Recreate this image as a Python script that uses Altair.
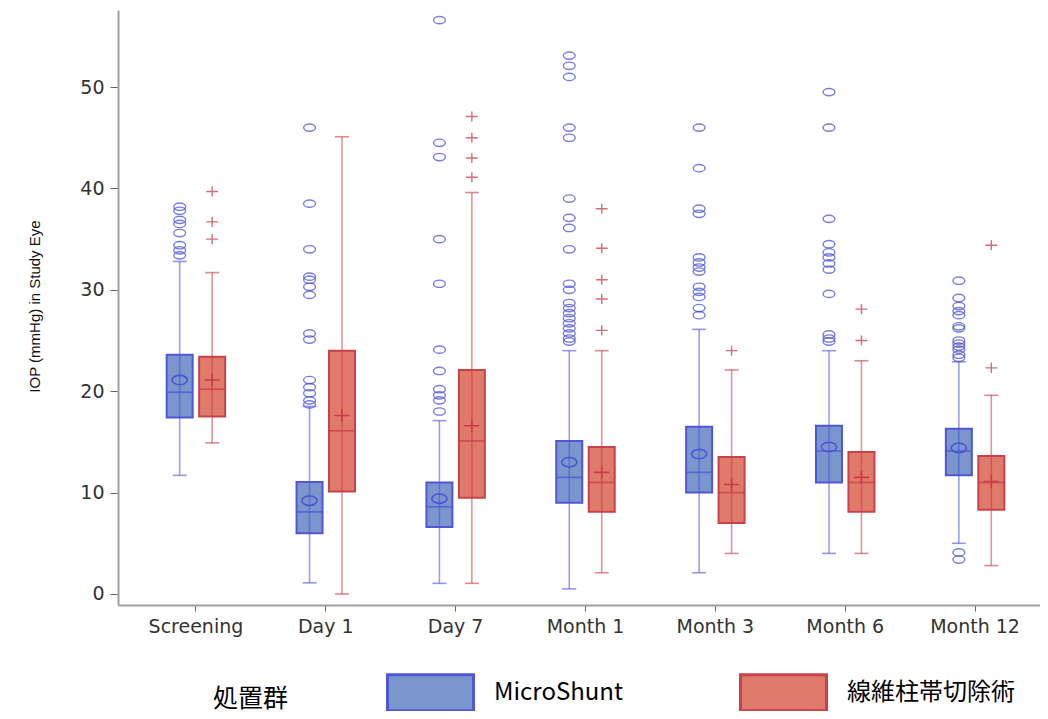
import altair as alt
import pandas as pd

timepoints = ["Screening", "Day 1", "Day 7", "Month 1", "Month 3", "Month 6", "Month 12"]
groups = ["MicroShunt", "線維柱帯切除術"]

# MicroShunt box statistics
ms_lo = [11.7, 1.1, 1.05, 0.5, 2.1, 4.0, 5.0]
ms_q1 = [17.4, 6.0, 6.6, 9.0, 10.0, 11.0, 11.7]
ms_median = [19.9, 8.1, 8.6, 11.5, 12.0, 14.1, 14.1]
ms_q3 = [23.6, 11.05, 11.0, 15.1, 16.5, 16.6, 16.3]
ms_hi = [32.8, 18.5, 17.1, 24.0, 26.1, 24.0, 22.9]
ms_mean = [21.1, 9.2, 9.4, 13.0, 13.8, 14.5, 14.4]

# Trabeculectomy box statistics
tb_lo = [14.9, 0.0, 1.05, 2.1, 4.0, 4.0, 2.8]
tb_q1 = [17.5, 10.1, 9.5, 8.1, 7.0, 8.1, 8.3]
tb_median = [20.2, 16.1, 15.1, 11.0, 10.0, 11.0, 11.0]
tb_q3 = [23.4, 24.0, 22.1, 14.5, 13.5, 14.0, 13.6]
tb_hi = [31.7, 45.1, 39.6, 24.0, 22.1, 23.0, 19.6]
tb_mean = [21.1, 17.6, 16.6, 12.0, 10.8, 11.5, 11.1]

# Outliers
ms_out_screening = [38.2, 37.8, 36.9, 36.5, 35.6, 34.4, 33.9, 33.4]
ms_out_day1 = [46.0, 38.5, 34.0, 31.3, 31.0, 30.3, 29.5, 25.7, 25.1, 21.1, 20.4, 19.8, 19.1, 18.7]
ms_out_day7 = [56.6, 44.5, 43.1, 35.0, 30.6, 24.1, 22.0, 20.2, 19.6, 19.1, 18.0]
ms_out_month1 = [53.1, 52.1, 51.0, 46.0, 45.0, 39.0, 37.1, 36.1, 34.0, 30.6, 30.0, 28.7, 28.2,
                 27.7, 27.2, 26.7, 26.2, 25.7, 25.2, 24.9]
ms_out_month3 = [46.0, 42.0, 38.0, 37.5, 33.2, 32.7, 32.2, 31.8, 30.3, 29.8, 29.3, 28.2, 27.5]
ms_out_month6 = [49.5, 46.0, 37.0, 34.5, 33.7, 33.2, 32.6, 32.0, 29.6, 25.6, 25.2, 24.9]
ms_out_month12 = [30.9, 29.2, 28.4, 27.9, 27.5, 26.4, 26.2, 25.0, 24.7, 24.4, 24.1, 23.6, 23.3, 4.1, 3.4]

tb_out_screening = [39.7, 36.7, 35.0]
tb_out_day1 = []
tb_out_day7 = [47.1, 45.0, 43.0, 41.1]
tb_out_month1 = [38.0, 34.1, 31.0, 29.1, 26.0]
tb_out_month3 = [24.0]
tb_out_month6 = [28.1, 25.0]
tb_out_month12 = [34.4, 22.3]

ms_outliers = [ms_out_screening, ms_out_day1, ms_out_day7, ms_out_month1,
               ms_out_month3, ms_out_month6, ms_out_month12]
tb_outliers = [tb_out_screening, tb_out_day1, tb_out_day7, tb_out_month1,
               tb_out_month3, tb_out_month6, tb_out_month12]

rows = []
for g, lo, q1, med, q3, hi, mean in [
    (groups[0], ms_lo, ms_q1, ms_median, ms_q3, ms_hi, ms_mean),
    (groups[1], tb_lo, tb_q1, tb_median, tb_q3, tb_hi, tb_mean),
]:
    for i, t in enumerate(timepoints):
        rows.append(dict(timepoint=t, group=g, lo=lo[i], q1=q1[i], median=med[i],
                         q3=q3[i], hi=hi[i], mean=mean[i]))
stats = pd.DataFrame(rows)

orows = []
for g, outs in [(groups[0], ms_outliers), (groups[1], tb_outliers)]:
    for t, vals in zip(timepoints, outs):
        for v in vals:
            orows.append(dict(timepoint=t, group=g, value=v))
outliers = pd.DataFrame(orows)

ellipse = "M-1,0A1,0.62,0,1,1,1,0A1,0.62,0,1,1,-1,0Z"
plus = "M-1,0L1,0M0,-0.85L0,0.85"
rect = "M-1,-0.42L1,-0.42L1,0.42L-1,0.42Z"

xscale = alt.Scale(paddingInner=0, paddingOuter=0.05, align=1)
xaxis = alt.Axis(title=None, labelAngle=0, labelFont="DejaVu Sans", labelFontSize=19,
                 labelColor="#333333", domainColor="#a0a0a0", domainWidth=2,
                 tickColor="#666666", tickSize=6, labelPadding=6, grid=False)
yscale = alt.Scale(domain=[-1.085, 57.6], nice=False, zero=False)
yaxis = alt.Axis(title="IOP (mmHg) in Study Eye", values=[0, 10, 20, 30, 40, 50],
                 titleFont="Liberation Sans", titleFontSize=15, titleFontWeight="normal",
                 titleColor="#111111", titleAngle=270, titleX=-84, titleY=296,
                 titleAlign="center", titleBaseline="middle",
                 labelFont="DejaVu Sans", labelFontSize=19, labelColor="#333333",
                 domainColor="#a0a0a0", domainWidth=2, tickColor="#666666",
                 tickSize=8, labelPadding=6, grid=False)

X = alt.X("timepoint:N", sort=timepoints, scale=xscale, axis=xaxis)
XO = alt.XOffset("group:N", sort=groups,
                 scale=alt.Scale(domain=groups, paddingInner=0, paddingOuter=1))


def Y(field):
    return alt.Y(field, type="quantitative", scale=yscale, axis=yaxis)


# separate field for the line/point colours and marker shapes so that they stay out of the legend
color = alt.Color("series:N", scale=alt.Scale(range=["#4b52d8", "#c93c46"]), legend=None)
shape = alt.Shape("series:N", scale=alt.Scale(range=[ellipse, plus]), legend=None)

legend = alt.Legend(title="処置群", orient="none", legendX=95, legendY=638,
                    direction="horizontal", titleOrient="left",
                    titleBaseline="line-top", titleLineHeight=35,
                    titleFont="Noto Sans CJK JP", titleFontSize=25, titleFontWeight="normal",
                    titleColor="#000000", titlePadding=97,
                    labelFont="Noto Sans CJK JP", labelFontSize=24, labelColor="#000000",
                    labelOffset=19, labelLimit=400, columnPadding=110, padding=0,
                    symbolType=rect, symbolSize=7396, symbolStrokeWidth=3, symbolOpacity=1)

fill = alt.Fill("group:N", scale=alt.Scale(domain=groups, range=["#7b96cc", "#e07b6c"]),
                legend=legend)
stroke = alt.Stroke("group:N", scale=alt.Scale(domain=groups, range=["#5057d6", "#c8424b"]),
                    legend=legend)

sbase = alt.Chart(stats).transform_calculate(series="datum.group")
obase = alt.Chart(outliers).transform_calculate(series="datum.group")

box = alt.Chart(stats).mark_bar(width=26, strokeWidth=2).encode(
    x=X, xOffset=XO, y=Y("q1"), y2="q3", fill=fill, stroke=stroke)
whisker = sbase.mark_rule(strokeWidth=1.6, opacity=0.55).encode(
    x=X, xOffset=XO, y=Y("lo"), y2="hi", color=color)
cap_lo = sbase.mark_tick(size=14, thickness=1.6, opacity=0.6).encode(
    x=X, xOffset=XO, y=Y("lo"), color=color)
cap_hi = sbase.mark_tick(size=14, thickness=1.6, opacity=0.6).encode(
    x=X, xOffset=XO, y=Y("hi"), color=color)
median = sbase.mark_tick(size=26, thickness=1.8).encode(
    x=X, xOffset=XO, y=Y("median"), color=color)
mean = sbase.mark_point(filled=False, size=230, strokeWidth=1.6, opacity=1).encode(
    x=X, xOffset=XO, y=Y("mean"), color=color, shape=shape)
outl = obase.mark_point(filled=False, size=140, strokeWidth=1.4, opacity=0.75).encode(
    x=X, xOffset=XO, y=Y("value"), color=color, shape=shape)

chart = alt.layer(box, whisker, cap_lo, cap_hi, median, mean, outl).properties(
    width=922, height=595,
    padding={"left": 110, "top": 2, "right": 0, "bottom": 106},
    autosize=alt.AutoSizeParams(type="none"),
    background="white",
).configure_view(stroke=None)

chart.save("out.html", embed_options={"renderer": "svg", "actions": False})
